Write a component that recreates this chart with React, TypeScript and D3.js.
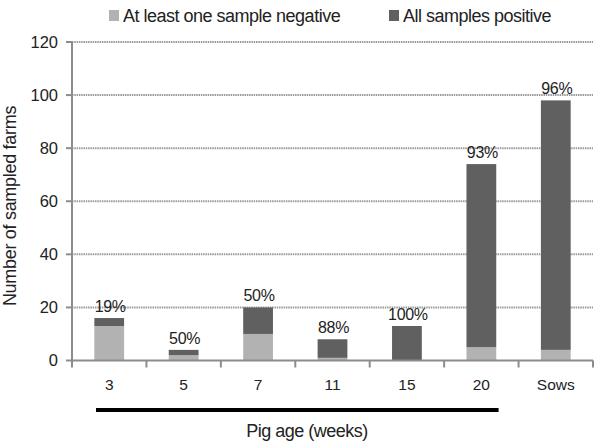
import React from "react";
import * as d3 from "d3";

const categories = ["3", "5", "7", "11", "15", "20", "Sows"];
const negative = [13, 2, 10, 1, 0, 5, 4];
const positive = [3, 2, 10, 7, 13, 69, 94];
const pctLabels = ["19%", "50%", "50%", "88%", "100%", "93%", "96%"];
const yTicks = [0, 20, 40, 60, 80, 100, 120];

const W = 600;
const H = 442;
const margin = { left: 72, right: 7, top: 42, bottom: 81.5 };
const LIGHT = "#b2b2b2";
const DARK = "#606060";
const FONT = "'Liberation Sans', Arial, sans-serif";

export default function App() {
  const x = d3
    .scaleBand()
    .domain(categories)
    .range([margin.left, W - margin.right])
    .paddingInner(0.6)
    .paddingOuter(0.3);
  const band = d3.scaleBand().domain(categories).range([margin.left, W - margin.right]);
  const y = d3.scaleLinear().domain([0, 120]).range([H - margin.bottom, margin.top]);

  const stack = d3
    .stack<any>()
    .keys(["neg", "pos"])(categories.map((c, i) => ({ c, neg: negative[i], pos: positive[i] })));

  const y0 = y(0);
  const axisColor = "#8c8c8c";

  return (
    <svg width={W} height={H} style={{ display: "block", position: "absolute", left: 0, top: 0 }} fontFamily={FONT}>
      {/* legend */}
      <rect x={109} y={10} width={10} height={11} fill={LIGHT} />
      <text x={123} y={22} fontSize={18} letterSpacing={-0.5} fill="#222">At least one sample negative</text>
      <rect x={389} y={10} width={10} height={11} fill={DARK} />
      <text x={403} y={22} fontSize={18} letterSpacing={-0.5} fill="#222">All samples positive</text>

      {/* gridlines */}
      {yTicks.filter(t => t > 0).map(t => (
        <line key={t} x1={margin.left} x2={W - margin.right} y1={y(t)} y2={y(t)}
          stroke="#9a9a9a" strokeWidth={2} strokeDasharray="1.5 0.8" />
      ))}

      {/* bars */}
      {stack.map((layer, li) => (
        <g key={li} fill={li === 0 ? LIGHT : DARK}>
          {layer.map((d, i) => (
            <rect key={i} x={x(categories[i])!} width={x.bandwidth()}
              y={y(d[1])} height={y(d[0]) - y(d[1])} />
          ))}
        </g>
      ))}

      {/* percent labels */}
      {categories.map((c, i) => (
        <text key={c} x={x(c)! + x.bandwidth() / 2 + 1} y={y(negative[i] + positive[i]) - 6}
          textAnchor="middle" fontSize={16} letterSpacing={-0.3} fill="#222">{pctLabels[i]}</text>
      ))}

      {/* y axis */}
      <line x1={margin.left} x2={margin.left} y1={margin.top} y2={y0} stroke={axisColor} strokeWidth={2} />
      {yTicks.map(t => (
        <g key={t}>
          <line x1={margin.left - 6} x2={margin.left} y1={y(t)} y2={y(t)} stroke={axisColor} strokeWidth={2} />
          <text x={margin.left - 14} y={y(t)} dy="0.35em" textAnchor="end" fontSize={16.5} fill="#222">{t}</text>
        </g>
      ))}
      <text transform={`translate(10,206) rotate(-90)`} textAnchor="middle"
        fontSize={18} letterSpacing={-0.3} fill="#222" dy="0.35em">Number of sampled farms</text>

      {/* x axis */}
      <line x1={margin.left} x2={W - margin.right} y1={y0} y2={y0} stroke={axisColor} strokeWidth={2} />
      {[...categories.map(c => band(c)!), W - margin.right].map((v, i) => (
        <line key={i} x1={v} x2={v} y1={y0} y2={y0 + 7} stroke={axisColor} strokeWidth={2} />
      ))}
      {categories.map(c => (
        <text key={c} x={band(c)! + band.bandwidth() / 2} y={390} textAnchor="middle" fontSize={15.5} fill="#222">{c}</text>
      ))}
      <line x1={band("3")! + 24} x2={band("20")! + band.bandwidth() - 20} y1={410} y2={410} stroke="#000" strokeWidth={4} />
      <text x={307} y={437} textAnchor="middle" fontSize={18} letterSpacing={-0.5} fill="#222">Pig age (weeks)</text>
    </svg>
  );
}
